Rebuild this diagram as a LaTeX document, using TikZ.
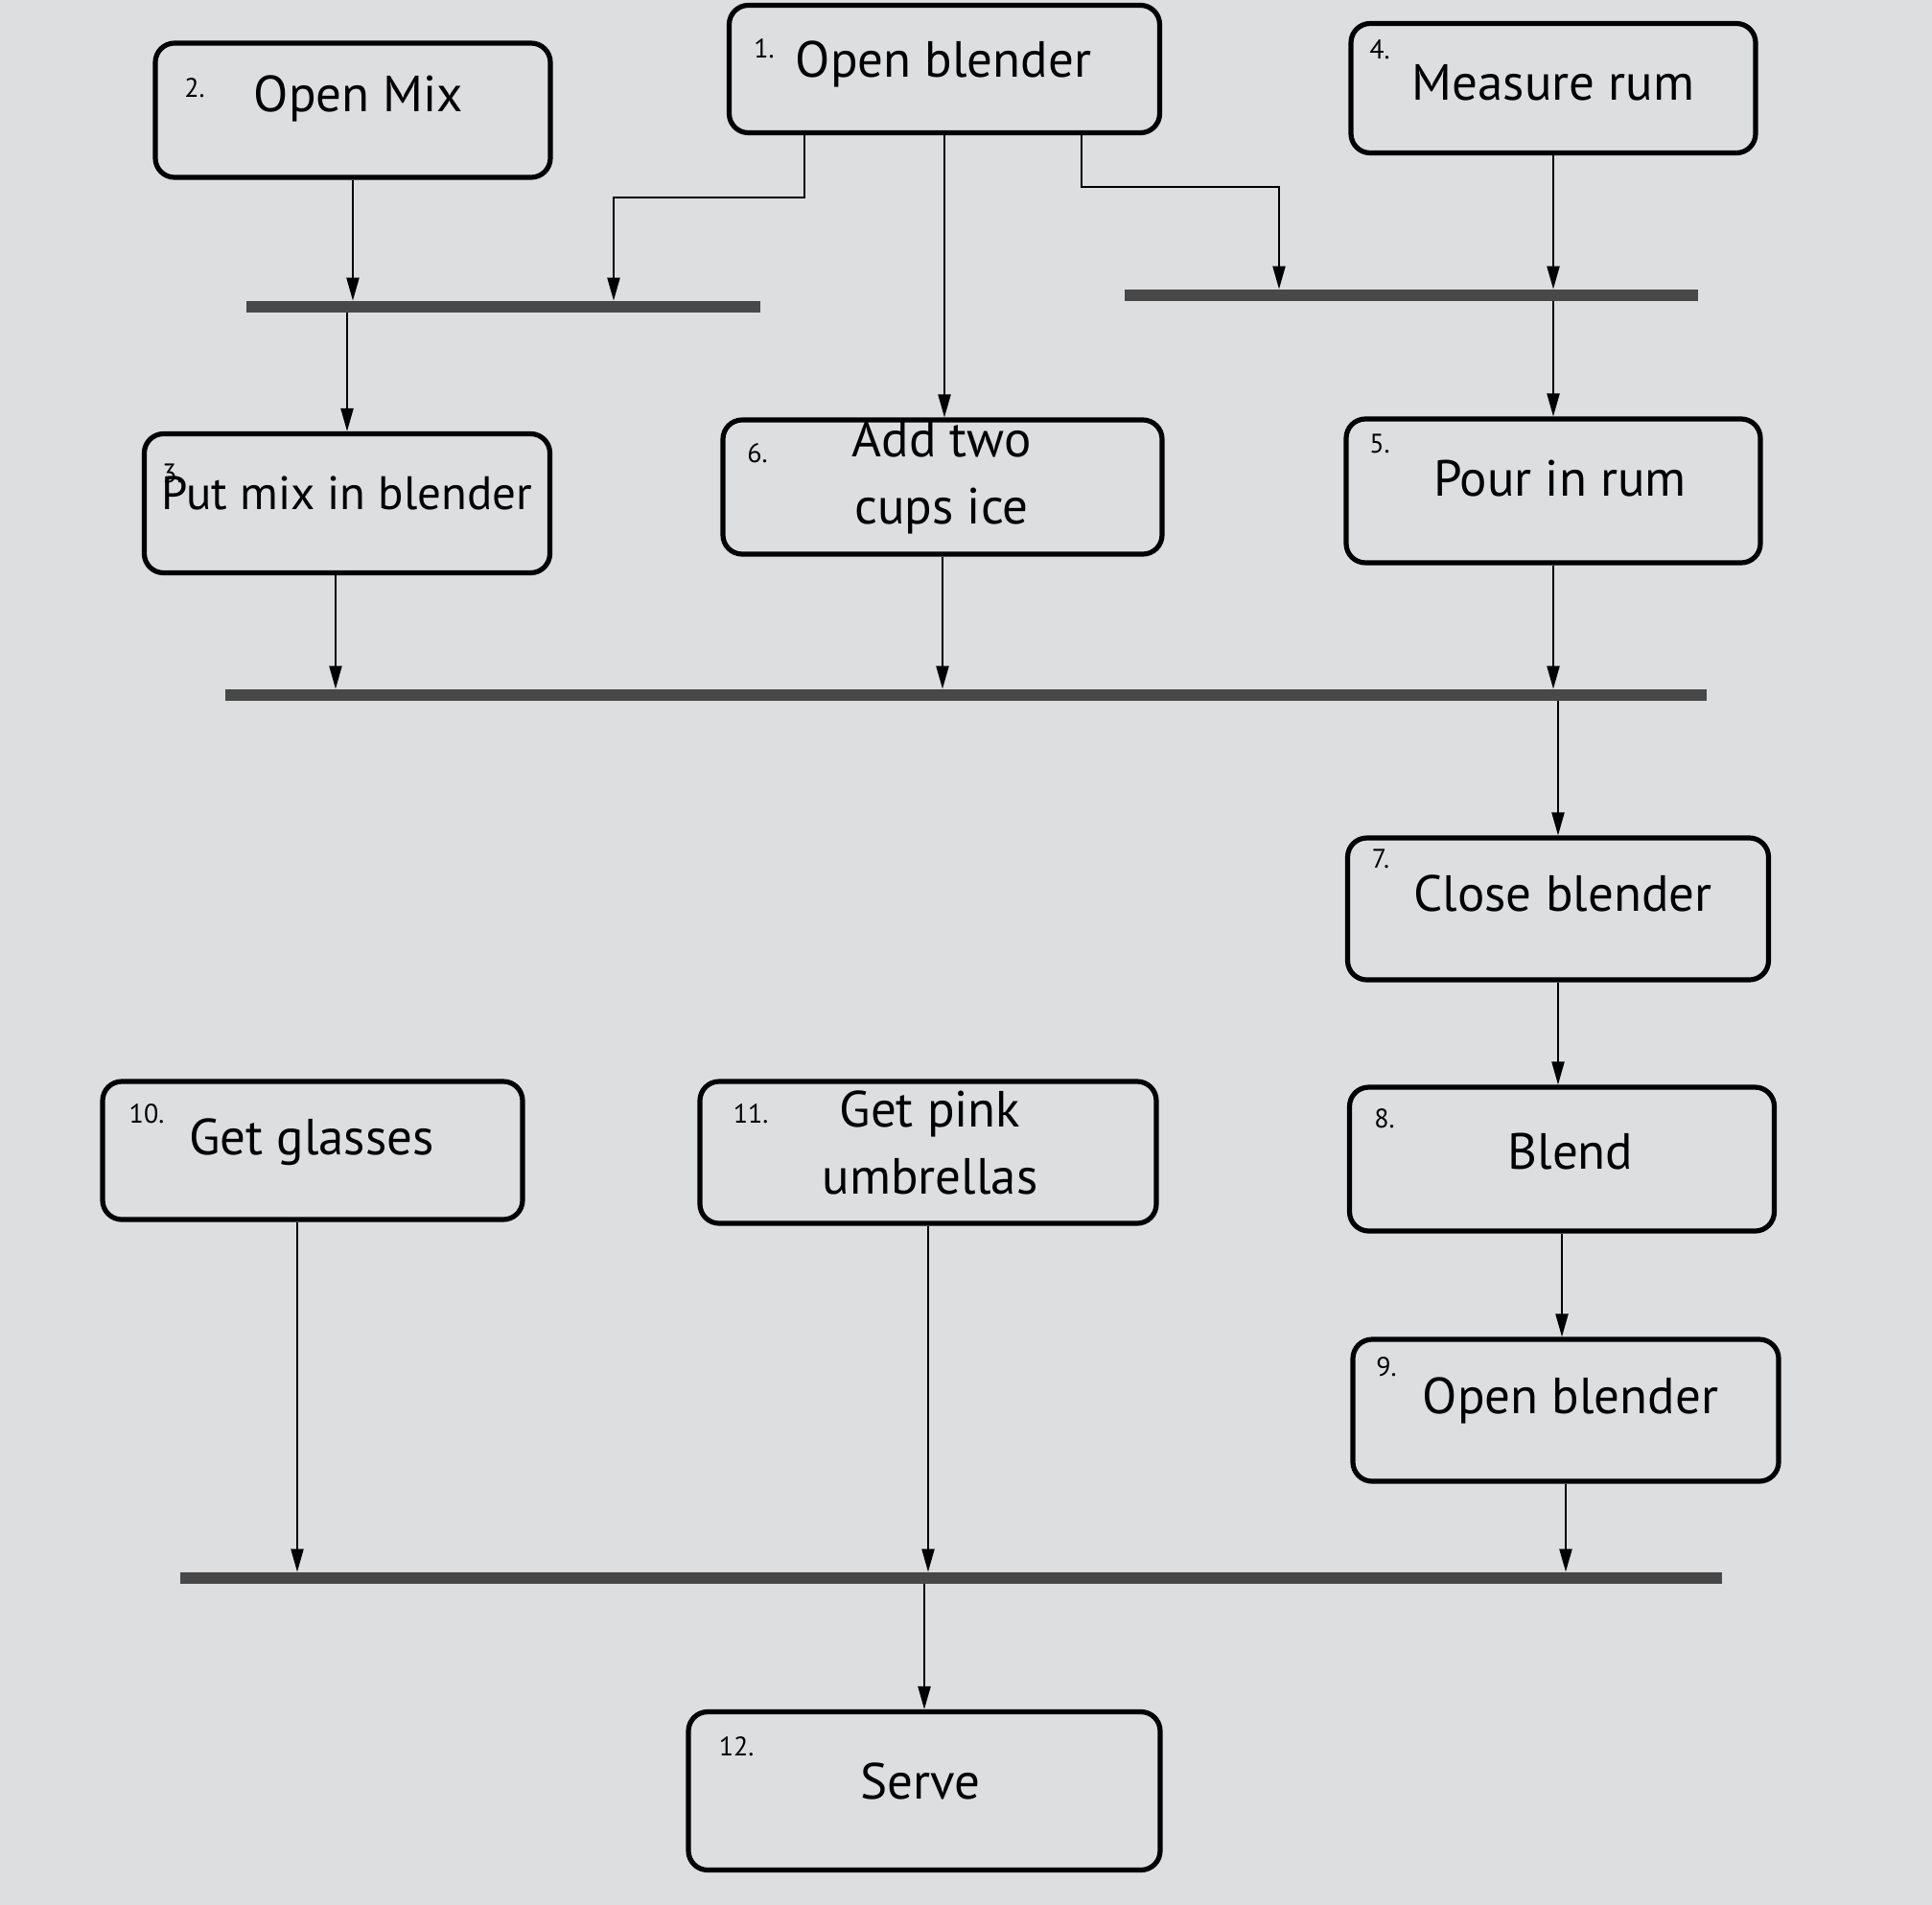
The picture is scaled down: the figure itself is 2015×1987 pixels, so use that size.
\documentclass[tikz,border=0pt]{standalone}
\usepackage{fontspec}
\setmainfont{PT Sans}
\usetikzlibrary{arrows.meta}
\definecolor{paper}{RGB}{221,222,224}
\definecolor{barc}{RGB}{72,72,72}
\begin{document}
\begin{tikzpicture}[x=0.5pt,y=-0.5pt,
  box/.style={draw=black, line width=2.6pt, rounded corners=10pt, inner sep=0pt},
  txt/.style={font=\fontsize{26.5}{35}\selectfont, inner sep=0pt, align=center},
  num/.style={font=\fontsize{14}{16}\selectfont, inner sep=0pt},
  arr/.style={line width=1.1pt, -{Triangle[length=12pt,width=6.5pt]}},
  sbar/.style={fill=barc, inner sep=0pt, minimum height=6pt}]
\fill[paper] (0,0) rectangle (2015,1987);
\useasboundingbox (0,0) rectangle (2015,1987);
% boxes
\node[box, minimum width=206pt, minimum height=70pt] (b2) at (368,115) {};
\node[box, minimum width=224.5pt, minimum height=66.5pt] (b1) at (985,72) {};
\node[box, minimum width=211pt, minimum height=67.5pt] (b4) at (1620,92) {};
\node[box, minimum width=211.5pt, minimum height=72.5pt] (b3) at (362,525) {};
\node[box, minimum width=229pt, minimum height=70pt] (b6) at (983,508) {};
\node[box, minimum width=216pt, minimum height=75pt] (b5) at (1620,512) {};
\node[box, minimum width=219.5pt, minimum height=74pt] (b7) at (1625,948) {};
\node[box, minimum width=219pt, minimum height=72pt] (b10) at (326,1200) {};
\node[box, minimum width=238pt, minimum height=74pt] (b11) at (968,1202) {};
\node[box, minimum width=221.5pt, minimum height=75pt] (b8) at (1629,1209) {};
\node[box, minimum width=222pt, minimum height=74pt] (b9) at (1633,1471) {};
\node[box, minimum width=246pt, minimum height=82.5pt] (b12) at (964,1868) {};
% texts
\node[txt] (t2) at (374,103) {Open Mix};
\node[txt] (t1) at (984,67) {Open blender};
\node[txt] (t4) at (1620,86) {Measure rum};
\node[txt, font=\fontsize{24.5}{30}\selectfont] (t3) at (362,514) {Put mix in blender};
\node[txt] (t6) at (982,498) {Add two\\cups ice};
\node[txt] (t5) at (1627,499) {Pour in rum};
\node[txt] (t7) at (1630,932) {Close blender};
\node[txt] (t10) at (325,1191) {Get glasses};
\node[txt] (t11) at (970,1192) {Get pink\\umbrellas};
\node[txt] (t8) at (1638,1201) {Blend};
\node[txt] (t9) at (1638,1461) {Open blender};
\node[txt] (t12) at (960,1858) {Serve};
% numbers
\node[num] (n1) at (797,51) {1.};
\node[num] (n2) at (203,92) {2.};
\node[num] (n4) at (1439,52) {4.};
\node[num] (n3) at (180,494) {3.};
\node[num] (n6) at (790,473) {6.};
\node[num] (n5) at (1439,463) {5.};
\node[num] (n7) at (1440,896) {7.};
\node[num] (n10) at (153,1162) {10.};
\node[num] (n11) at (783,1162) {11.};
\node[num] (n8) at (1444,1167) {8.};
\node[num] (n9) at (1446,1426) {9.};
\node[num] (n12) at (768,1822) {12.};
% synchronisation bars
\node[sbar, minimum width=268pt] (s1L) at (525,320) {};
\node[sbar, minimum width=299pt] (s1R) at (1472,308) {};
\node[sbar, minimum width=772.5pt] (s2) at (1007.5,725) {};
\node[sbar, minimum width=804pt] (s3) at (992,1646) {};
% bend points
\coordinate (k1) at (839,206);
\coordinate (k2) at (640,206);
\coordinate (k3) at (1128,195);
\coordinate (k4) at (1334,195);
% connectors
\draw[arr] (b2.south) -- (b2.south |- s1L.north);
\draw[arr] (s1L.south -| b3.north) -- (b3.north);
\draw[arr] (k1 |- b1.south) -- (k1) -- (k2) -- (k2 |- s1L.north);
\draw[arr] (b1.south) -- (b1.south |- b6.north);
\draw[arr] (k3 |- b1.south) -- (k3) -- (k4) -- (k4 |- s1R.north);
\draw[arr] (b4.south) -- (b4.south |- s1R.north);
\draw[arr] (s1R.south -| b5.north) -- (b5.north);
\draw[arr] ([xshift=-6pt]b3.south) -- ([xshift=-6pt]b3.south |- s2.north);
\draw[arr] (b6.south) -- (b6.south |- s2.north);
\draw[arr] (b5.south) -- (b5.south |- s2.north);
\draw[arr] (s2.south -| b7.north) -- (b7.north);
\draw[arr] (b7.south) -- (b7.south |- b8.north);
\draw[arr] (b8.south) -- (b8.south |- b9.north);
\draw[arr] ([xshift=-8pt]b10.south) -- ([xshift=-8pt]b10.south |- s3.north);
\draw[arr] (b11.south) -- (b11.south |- s3.north);
\draw[arr] (s3.south -| b12.north) -- (b12.north);
\draw[arr] (b9.south) -- (b9.south |- s3.north);
\end{tikzpicture}
\end{document}
